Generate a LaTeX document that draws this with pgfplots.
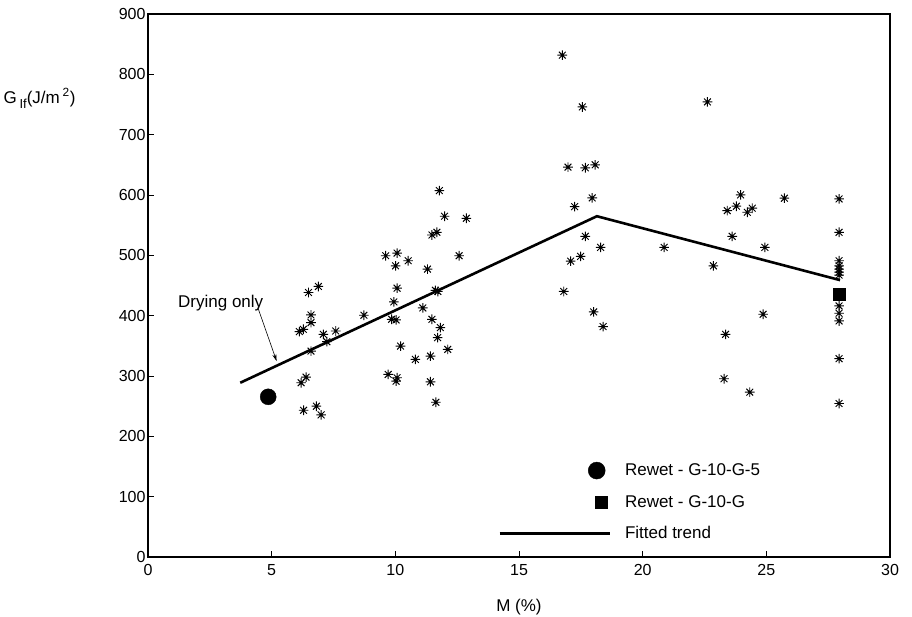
\documentclass[border=0pt]{standalone}
\usepackage{fontspec}
\setmainfont{Liberation Sans}
\usepackage{pgfplots}
\pgfplotsset{compat=1.18}
\usetikzlibrary{arrows.meta}
\pgfdeclareplotmark{star8}{%
 \pgfpathmoveto{\pgfqpoint{-\pgfplotmarksize}{0pt}}\pgfpathlineto{\pgfqpoint{\pgfplotmarksize}{0pt}}%
 \pgfpathmoveto{\pgfqpoint{0pt}{-\pgfplotmarksize}}\pgfpathlineto{\pgfqpoint{0pt}{\pgfplotmarksize}}%
 \pgfpathmoveto{\pgfqpoint{-0.707\pgfplotmarksize}{-0.707\pgfplotmarksize}}\pgfpathlineto{\pgfqpoint{0.707\pgfplotmarksize}{0.707\pgfplotmarksize}}%
 \pgfpathmoveto{\pgfqpoint{-0.707\pgfplotmarksize}{0.707\pgfplotmarksize}}\pgfpathlineto{\pgfqpoint{0.707\pgfplotmarksize}{-0.707\pgfplotmarksize}}%
 \pgfusepathqstroke}
\pgfplotstableread{
x y
6.49 438.4
6.89 448.4
10.07 445.6
9.94 422.8
6.59 401.2
6.59 388.5
6.12 373.6
6.28 377.4
7.09 369.1
7.59 374.6
7.23 356.9
8.73 400.7
9.85 394.0
10.03 392.9
11.11 412.8
11.48 394.0
11.82 380.2
11.71 363.6
12.12 344.1
10.21 349.6
6.59 341.3
10.81 327.5
11.42 333.0
9.71 302.6
10.07 297.1
10.03 291.4
11.42 290.4
6.19 288.8
6.39 298.1
11.64 256.5
6.29 243.2
6.81 249.9
7.00 235.6
11.72 440.1
11.62 442.0
11.78 607.3
11.99 564.8
12.87 561.4
11.48 533.7
11.68 538.2
9.61 499.3
10.07 503.7
10.52 491.0
10.01 482.6
12.58 499.3
11.30 477.1
16.75 831.8
17.56 745.9
22.62 754.3
16.98 646.2
17.68 645.1
18.08 650.0
17.96 595.2
17.25 580.7
23.96 600.2
23.79 581.4
23.42 574.1
24.23 571.4
24.43 578.1
25.73 594.7
27.94 593.5
27.94 538.2
17.68 531.5
18.30 513.2
20.87 513.2
23.62 531.5
24.94 513.2
17.49 498.3
17.09 490.4
22.86 482.6
16.81 440.1
27.94 491.0
27.94 482.6
27.94 477.1
27.94 472.1
27.94 467.2
18.02 406.2
18.40 381.9
23.35 369.1
24.87 402.3
23.29 295.4
24.33 273.2
27.94 416.1
27.94 404.0
27.94 391.2
27.94 328.7
27.94 254.4
}\stars
\begin{document}
\begin{tikzpicture}
\path[use as bounding box] (-148pt,-60pt) rectangle (764pt,557pt);
\begin{axis}[
 width=742pt, height=543pt, scale only axis,
 xmin=0, xmax=30, ymin=0, ymax=900,
 xtick={0,5,...,30}, ytick={0,100,...,900},
 tick align=inside, tick pos=left, major tick length=6pt,
 tick style={line width=0.7pt, black},
 ticklabel style={font=\fontsize{16}{18}\selectfont},
 xticklabel style={yshift=-4pt},
 yticklabel style={xshift=1pt},
 /pgf/number format/assume math mode=true,
 xlabel={M (\%)},
 xlabel style={font=\fontsize{17}{19}\selectfont, at={(axis description cs:0.5,0)}, anchor=center, yshift=-50pt},
 clip=false,
 legend style={at={(axis cs:14.16,158)}, anchor=north west, draw=none, fill=none,
   font=\fontsize{17}{19}\selectfont, row sep=14pt, inner sep=0pt},
 legend cell align=left,
]
\draw[line width=2pt] (rel axis cs:0,0) rectangle (rel axis cs:1,1);
\addplot[only marks, mark=star8, mark size=4.8pt, mark options={line width=0.95pt, black}, forget plot] table {\stars};
\addplot[only marks, mark=*, mark size=8pt, black,
  legend image code/.code={\path (0pt,0pt) (122pt,0pt); \fill[black] (97pt,0pt) circle (8.5pt);}]
  coordinates {(4.86,265.5)};
\addlegendentry{Rewet - G-10-G-5}
\addplot[only marks, mark=square*, mark size=6.2pt, black,
  legend image code/.code={\path (0pt,0pt) (122pt,0pt); \fill[black] (95pt,-6.2pt) rectangle (107.4pt,6.2pt);}]
  coordinates {(27.94,435.6)};
\addlegendentry{Rewet - G-10-G}
\addplot[black, line width=2.6pt, mark=none,
  legend image code/.code={\path (0pt,0pt) (122pt,0pt); \draw[black, line width=2.2pt] (0pt,0pt) -- (110pt,0pt);}]
  coordinates {(3.73,288.8) (18.15,564.8) (27.98,458.9)};
\addlegendentry{Fitted trend}
\node[font=\fontsize{17}{19}\selectfont] at (axis cs:2.94,420.6) {Drying only};
\draw[-{Stealth[length=7pt,width=4pt]}, line width=0.6pt] (axis cs:4.44,413.5) -- (axis cs:5.20,324.7);
\node[anchor=west, font=\fontsize{17}{19}\selectfont, inner sep=0pt] at (axis cs:-5.85,760)
  {G\,\raisebox{-0.6ex}{\fontsize{13}{15}\selectfont If}(J/m\,\textsuperscript{2})};
\end{axis}
\end{tikzpicture}
\end{document}
